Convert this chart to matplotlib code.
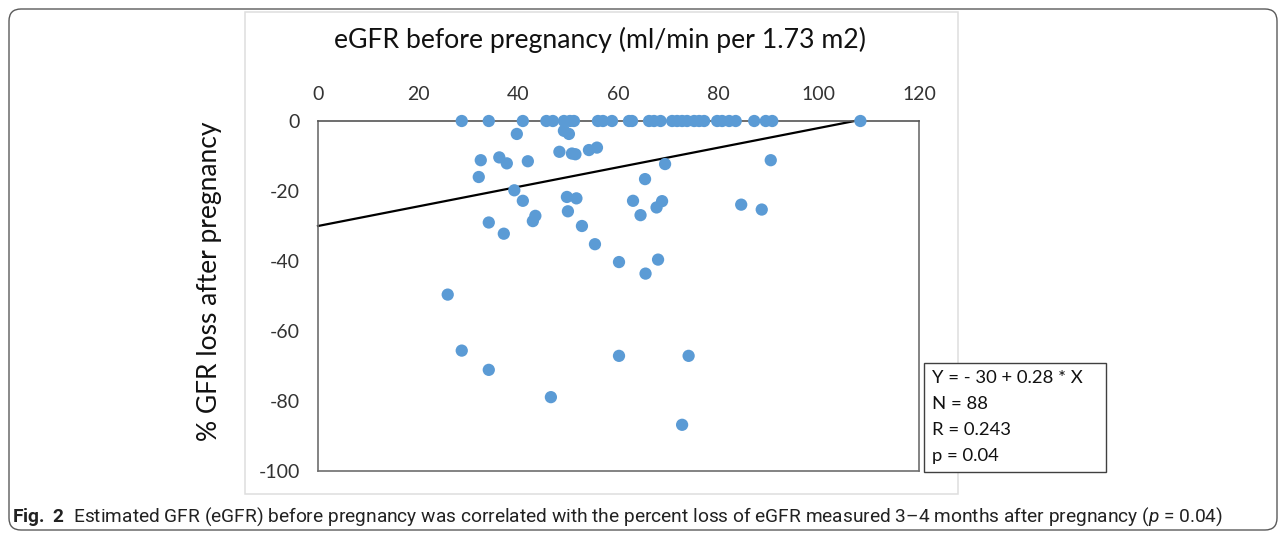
import numpy as np
import matplotlib.pyplot as plt
from matplotlib.patches import FancyBboxPatch, Rectangle

plt.rcParams['axes.unicode_minus'] = False
plt.rcParams['font.family'] = ['Lato', 'DejaVu Sans']
plt.rcParams['mathtext.fontset'] = 'custom'
plt.rcParams['mathtext.rm'] = 'Roboto'
plt.rcParams['mathtext.it'] = 'Roboto:italic'
plt.rcParams['mathtext.bf'] = 'Roboto:bold'

# patients with no eGFR loss (sit on the 0 line)
egfr_zero = [28.7, 34.1, 40.9, 45.6, 46.9, 49.1, 50.3, 51.1, 55.9, 56.9,
             58.7, 62.1, 62.7, 66.1, 67.1, 68.4, 70.7, 71.7, 72.7, 73.7,
             75.1, 76.1, 77.1, 79.7, 80.7, 82.1, 83.4, 87.1, 89.4, 90.7, 108.3]

# patients with eGFR loss
egfr_loss = [39.7, 49.1, 50.1, 32.5, 36.2, 37.7, 41.9, 48.2, 50.7, 51.4,
             54.1, 55.7, 32.1, 65.3, 39.2, 40.9, 49.7, 51.6, 62.9, 34.1,
             37.1, 43.4, 42.9, 49.9, 52.7, 64.4, 55.3, 60.1, 65.4, 25.9,
             69.3, 90.4, 68.7, 67.6, 84.5, 88.6, 67.9, 28.7, 34.1, 46.5,
             60.1, 74.0, 72.7]
pct_loss = [-3.7, -2.8, -3.7, -11.2, -10.4, -12.1, -11.5, -8.8, -9.3, -9.5,
            -8.3, -7.6, -16.0, -16.6, -19.8, -22.8, -21.7, -22.1, -22.8, -29.0,
            -32.2, -27.1, -28.6, -25.8, -30.0, -26.9, -35.2, -40.3, -43.6, -49.6,
            -12.3, -11.2, -22.9, -24.7, -23.9, -25.3, -39.6, -65.6, -71.1, -78.9,
            -67.1, -67.1, -86.8]

x_ticks = [0, 20, 40, 60, 80, 100, 120]
y_ticks = [-100, -80, -60, -40, -20, 0]
intercept, slope = -30, 0.28
stats_lines = ["Y = - 30 + 0.28 * X", "N = 88", "R = 0.243", "p = 0.04"]

egfr = np.array(egfr_zero + egfr_loss)
loss = np.array([0.0] * len(egfr_zero) + pct_loss)

W, H = 1287, 539
fig = plt.figure(figsize=(W / 100, H / 100), dpi=100)

# pixel-space layer for frame, chart border, titles and caption
bg = fig.add_axes([0, 0, 1, 1], zorder=-1)
bg.set_xlim(0, W)
bg.set_ylim(H, 0)
bg.axis('off')

bg.add_patch(FancyBboxPatch((9, 9), W - 19, 521, boxstyle="round,pad=0,rounding_size=12",
                            fc='white', ec='#5a5a5a', lw=1.0))
bg.add_patch(Rectangle((245, 12), 713, 482, fc='white', ec='#dedede', lw=1.1))

bg.text(600, 40, "eGFR before pregnancy (ml/min per 1.73 m2)", fontsize=19.2,
        ha='center', va='center', color='#111111')
bg.text(210, 281, "% GFR loss after pregnancy", fontsize=19, rotation=90,
        ha='center', va='center', color='#111111')

# stats box
bg.add_patch(Rectangle((924, 363), 182, 109, fc='white', ec='#404040', lw=1.0))
for i, line in enumerate(stats_lines):
    bg.text(932, 378 + i * 26, line, fontsize=13.3, ha='left', va='center', color='#111111')

caption = (r"$\mathbf{Fig.\ 2}$  Estimated GFR (eGFR) before pregnancy was correlated with the percent "
           r"loss of eGFR measured 3–4 months after pregnancy ($\mathit{p}$ = 0.04)")
bg.text(12, 517, caption, fontsize=13.8, ha='left', va='center', family='Roboto', color='#222222')

# scatter plot
ax = fig.add_axes([318 / W, 1 - 471 / H, 601 / W, 350 / H])
ax.scatter(egfr, loss, s=78, color='#5b9bd5', edgecolors='none', zorder=3, clip_on=False)

xs = np.array([0, egfr.max()])
ax.plot(xs, intercept + slope * xs, color='black', lw=1.6, zorder=2, clip_on=False)

ax.set_xlim(0, 120)
ax.set_ylim(-100, 0)
ax.set_xticks(x_ticks)
ax.set_xticklabels([str(t) for t in x_ticks])
ax.set_yticks(y_ticks)
ax.set_yticklabels([str(t) for t in y_ticks])
ax.xaxis.tick_top()
ax.tick_params(axis='x', length=0, pad=13, labelsize=14, labelcolor='#333333')
ax.tick_params(axis='y', length=0, pad=13, labelsize=14, labelcolor='#333333')
for side in ['left', 'right', 'top', 'bottom']:
    ax.spines[side].set_color('#6e6e6e')
    ax.spines[side].set_linewidth(1.2)
ax.spines['top'].set_color('#555555')

fig.savefig("out.png", dpi=100)
